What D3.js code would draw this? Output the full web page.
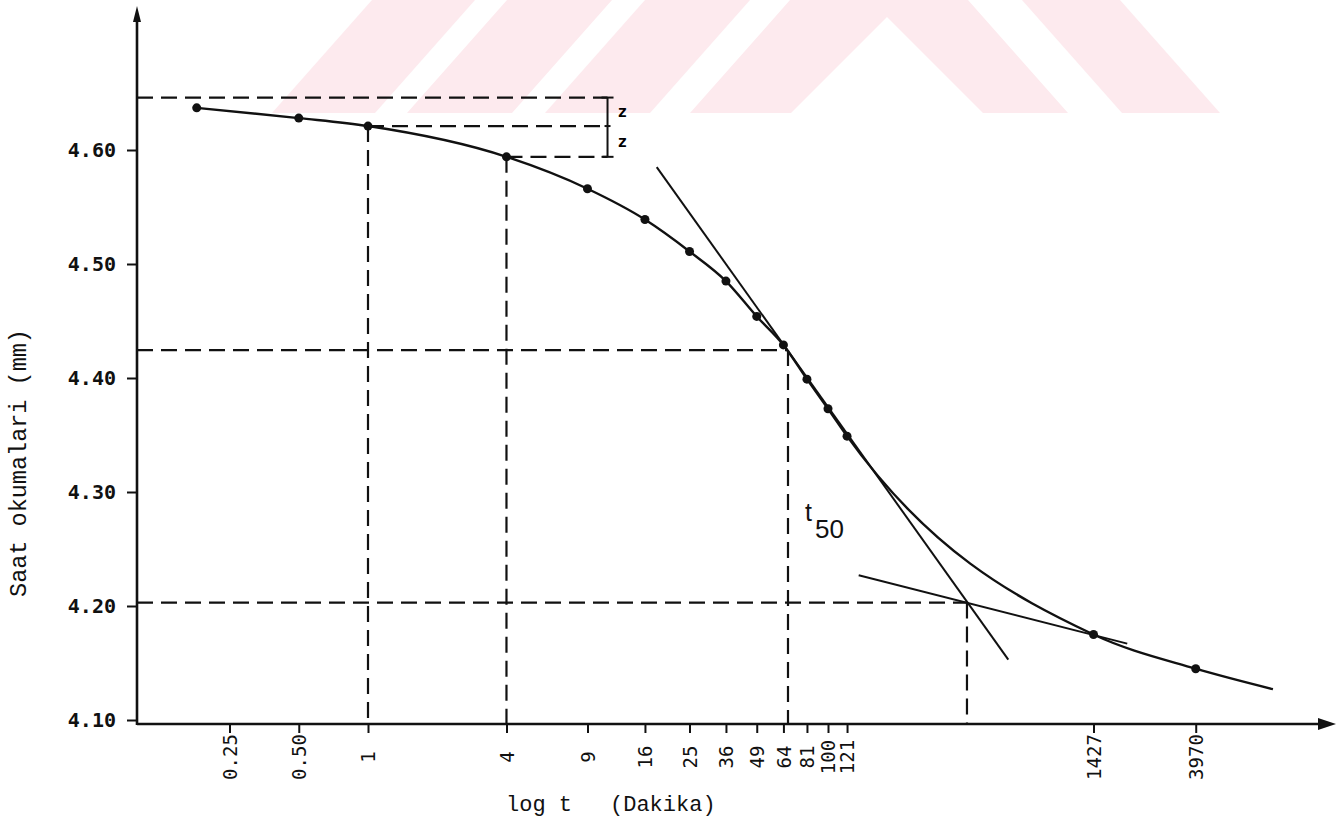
<!DOCTYPE html>
<html lang="en">
<head>
  <meta charset="utf-8">
  <title>Saat okumalari - log t</title>
  <script src="https://cdn.jsdelivr.net/npm/d3@7"></script>
  <style>
    body { margin: 0; background: #fff; }
    svg { display: block; }
    .tick line { stroke: #111; stroke-width: 2px; }
    .axis-y .tick text { font: bold 20px "DejaVu Sans Mono", monospace; fill: #111; }
    .axis-x .tick text { font: 19px "DejaVu Sans Mono", monospace; fill: #111; }
    .title { font: 22px "Liberation Mono", monospace; fill: #111; }
    .guide { fill: none; stroke: #111; stroke-width: 2.2px; stroke-dasharray: 16 8; }
    .curve { fill: none; stroke: #111; stroke-width: 2.4px; }
    .tangent { stroke: #111; stroke-width: 2px; }
    .axisline { stroke: #111; stroke-width: 2.6px; }
  </style>
</head>
<body>
<svg width="1341" height="820"></svg>
<script>
// okumalar: zaman (dakika) ve saat okumalari (mm)
var times    = [0.18, 0.5, 1, 4, 9, 16, 25, 36, 49, 64, 81, 100, 121, 1427, 3970];
var readings = [4.637, 4.628, 4.621, 4.594, 4.566, 4.539, 4.511, 4.485, 4.454, 4.429, 4.399, 4.373, 4.349, 4.175, 4.145];
// the hand drawn curve runs on a bit past the last reading
var curveTail = {t: 8600, v: 4.127};

var xTicks      = [0.25, 0.5, 1, 4, 9, 16, 25, 36, 49, 64, 81, 100, 121, 1427, 3970];
var xTickLabels = ["0.25", "0.50", "1", "4", "9", "16", "25", "36", "49", "64", "81", "100", "121", "1427", "3970"];
var yTicks      = [4.10, 4.20, 4.30, 4.40, 4.50, 4.60];

// Casagrande construction
var d0 = 4.646, d100 = 4.203, d50 = 4.4245;
var t50 = 67, t100 = 402;
var zAt = 11;
var tangent1 = [{t: 18, v: 4.585}, {t: 608, v: 4.153}];
var tangent2 = [{t: 136, v: 4.227}, {t: 2000, v: 4.167}];

var svg = d3.select("svg");

// faint watermark in the scan
var wm = [
  [[272,113],[375,113],[475,0],[372,0]],
  [[407,113],[512,113],[612,0],[507,0]],
  [[545,113],[650,113],[750,0],[645,0]],
  [[690,113],[790,0],[968,0],[1068,113],[983,113],[887,17],[791,113]],
  [[1122,113],[1220,113],[1120,0],[1022,0]]
];
svg.append("g").selectAll("polygon")
  .data(wm)
  .enter().append("polygon")
    .attr("points", function(d) { return d.join(" "); })
    .attr("fill", "#fdeaee");

var x = d3.scaleLog().domain([0.1, 10000]).range([138, 1288]),
    y = d3.scaleLinear().domain([4.10, 4.60]).range([720, 150]);
var axisX = 137, axisY = 724;   // where the two axes are drawn

var g = svg.append("g");

// dashed guide lines
var guides = [
  [[axisX, y(d0)], [x(zAt), y(d0)]],
  [[x(times[2]), y(readings[2])], [x(zAt), y(readings[2])]],
  [[x(times[3]), y(readings[3])], [x(zAt), y(readings[3])]],
  [[x(times[2]), y(readings[2])], [x(times[2]), axisY]],
  [[x(times[3]), y(readings[3])], [x(times[3]), axisY]],
  [[axisX, y(d50)], [x(t50), y(d50)]],
  [[x(t50), y(d50)], [x(t50), axisY]],
  [[axisX, y(d100)], [x(t100), y(d100)]],
  [[x(t100), y(d100)], [x(t100), axisY]]
];
g.selectAll(".guide")
  .data(guides)
  .enter().append("path")
    .attr("class", "guide")
    .attr("d", d3.line());

// z brackets
var zx = x(zAt);
g.append("line").attr("class", "tangent")
    .attr("x1", zx).attr("x2", zx).attr("y1", y(d0)).attr("y2", y(readings[3]));
[[d0, 6], [readings[2], 3], [readings[3], 6]].forEach(function(c) {
  g.append("line").attr("class", "tangent")
      .attr("x1", zx - c[1]).attr("x2", zx + c[1])
      .attr("y1", y(c[0])).attr("y2", y(c[0]));
});
g.selectAll(".zlab")
  .data([(d0 + readings[2]) / 2, (readings[2] + readings[3]) / 2])
  .enter().append("text")
    .attr("x", zx + 10)
    .attr("y", function(d) { return y(d); })
    .attr("dy", "0.35em")
    .style("font", "bold 16px 'DejaVu Sans Mono', monospace")
    .text("z");

// tangents
g.selectAll(".tan")
  .data([tangent1, tangent2])
  .enter().append("line")
    .attr("class", "tangent")
    .attr("x1", function(d) { return x(d[0].t); })
    .attr("y1", function(d) { return y(d[0].v); })
    .attr("x2", function(d) { return x(d[1].t); })
    .attr("y2", function(d) { return y(d[1].v); });

// curve and readings
var pts = times.map(function(t, i) { return {t: t, v: readings[i]}; });
var line = d3.line()
    .curve(d3.curveMonotoneX)
    .x(function(d) { return x(d.t); })
    .y(function(d) { return y(d.v); });

g.append("path")
    .attr("class", "curve")
    .attr("d", line(pts.concat([curveTail])));

g.selectAll(".dot")
  .data(pts)
  .enter().append("circle")
    .attr("cx", function(d) { return x(d.t); })
    .attr("cy", function(d) { return y(d.v); })
    .attr("r", 4.5)
    .attr("fill", "#111");

// t50 label
var t50lab = g.append("text")
    .attr("x", x(t50) + 17)
    .attr("y", y(4.275))
    .style("font", "25px 'Liberation Sans', Arial, sans-serif")
    .attr("fill", "#111");
t50lab.append("tspan").text("t");
t50lab.append("tspan").attr("dx", 3).attr("dy", 17).style("font-size", "26px").text("50");

// axes
g.append("g")
    .attr("class", "axis-y")
    .attr("transform", "translate(" + axisX + ",0)")
    .call(d3.axisLeft(y).tickValues(yTicks).tickSize(10).tickPadding(11).tickFormat(d3.format(".2f")))
    .call(function(a) { a.select(".domain").remove(); });

var ax = g.append("g")
    .attr("class", "axis-x")
    .attr("transform", "translate(0," + axisY + ")")
    .call(d3.axisBottom(x).tickValues(xTicks).tickSize(9)
      .tickFormat(function(d, i) { return xTickLabels[i]; }));
ax.select(".domain").remove();
ax.selectAll(".tick text")
    .attr("transform", "rotate(-90)")
    .attr("x", -33)
    .attr("y", 0)
    .attr("dy", "0.35em")
    .style("text-anchor", "middle");

g.append("line").attr("class", "axisline")
    .attr("x1", axisX).attr("x2", 1322).attr("y1", axisY).attr("y2", axisY);
g.append("path")
    .attr("d", "M1336," + axisY + "L1318," + (axisY - 6) + "L1318," + (axisY + 6) + "Z")
    .attr("fill", "#111");
g.append("line").attr("class", "axisline")
    .attr("x1", axisX).attr("x2", axisX).attr("y1", axisY + 1).attr("y2", 16);
g.append("path")
    .attr("d", "M" + axisX + ",6L" + (axisX - 4) + ",22L" + (axisX + 4) + ",22Z")
    .attr("fill", "#111");

// axis titles
svg.append("text")
    .attr("class", "title")
    .attr("transform", "translate(26,463) rotate(-90)")
    .style("text-anchor", "middle")
    .style("font-size", "23.5px")
    .text("Saat okumalari (mm)");
svg.append("text").attr("class", "title").attr("x", 506).attr("y", 811).text("log t");
svg.append("text").attr("class", "title").attr("x", 610).attr("y", 811).text("(Dakika)");
</script>
</body>
</html>
